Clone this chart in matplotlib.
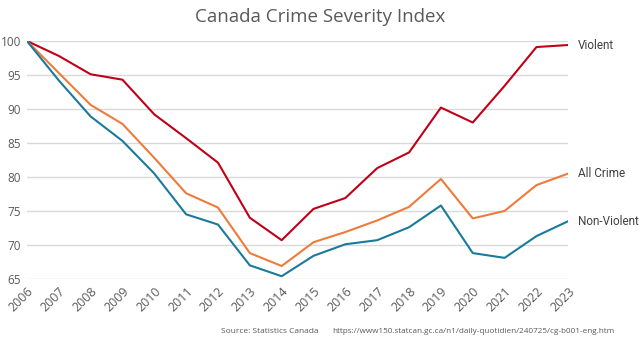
import matplotlib.pyplot as plt

# Données (indice 2006 = 100)
years = list(range(2006, 2024))
violent = [100, 97.8, 95.1, 94.3, 89.2, 85.7, 82.1, 74.0, 70.7, 75.3,
           76.9, 81.3, 83.6, 90.2, 88.0, 93.4, 99.1, 99.4]
all_crime = [100, 95.3, 90.6, 87.8, 82.8, 77.6, 75.5, 68.8, 66.9, 70.4,
             71.9, 73.6, 75.6, 79.7, 73.9, 75.0, 78.8, 80.5]
non_violent = [100, 94.2, 88.9, 85.3, 80.5, 74.5, 73.0, 67.0, 65.4, 68.4,
               70.1, 70.7, 72.6, 75.8, 68.8, 68.1, 71.3, 73.5]

series = [
    ('Violent', violent, '#C00018'),
    ('All Crime', all_crime, '#EE7B3A'),
    ('Non-Violent', non_violent, '#1A7A9C'),
]

plt.rcParams['font.family'] = ['Open Sans', 'DejaVu Sans']

fig = plt.figure(figsize=(6.4, 3.41), dpi=100)
ax = fig.add_axes([0.042, 0.182, 0.846, 0.698])

for name, vals, col in series:
    ax.plot(years, vals, color=col, lw=1.5)
    ax.annotate(name, xy=(years[-1], vals[-1]), xytext=(7, 0),
                textcoords='offset points', va='center', ha='left',
                fontsize=8.5, color='#404040', family='Roboto')

ax.set_xlim(2006, 2023)
ax.set_ylim(65, 100)
ax.set_yticks(range(65, 101, 5))
ax.set_xticks(years)
ax.set_xticklabels([str(y) for y in years], rotation=45, ha='right',
                   rotation_mode='anchor')
ax.tick_params(length=0, labelsize=8.5, labelcolor='#595959', pad=4)
ax.tick_params(axis='x', labelsize=9)
ax.grid(axis='y', color='#D9D9D9', lw=1)
ax.set_axisbelow(True)
for s in ax.spines.values():
    s.set_visible(False)

fig.text(0.5, 0.95, 'Canada Crime Severity Index', ha='center', va='center',
         fontsize=13.5, color='#595959')
fig.text(0.497, 0.027, 'Source: Statistics Canada', ha='right', va='center',
         fontsize=6, color='#595959')
fig.text(0.519, 0.027,
         'https://www150.statcan.gc.ca/n1/daily-quotidien/240725/cg-b001-eng.htm',
         ha='left', va='center', fontsize=5.85, color='#595959')

fig.savefig('out.png', dpi=100)
